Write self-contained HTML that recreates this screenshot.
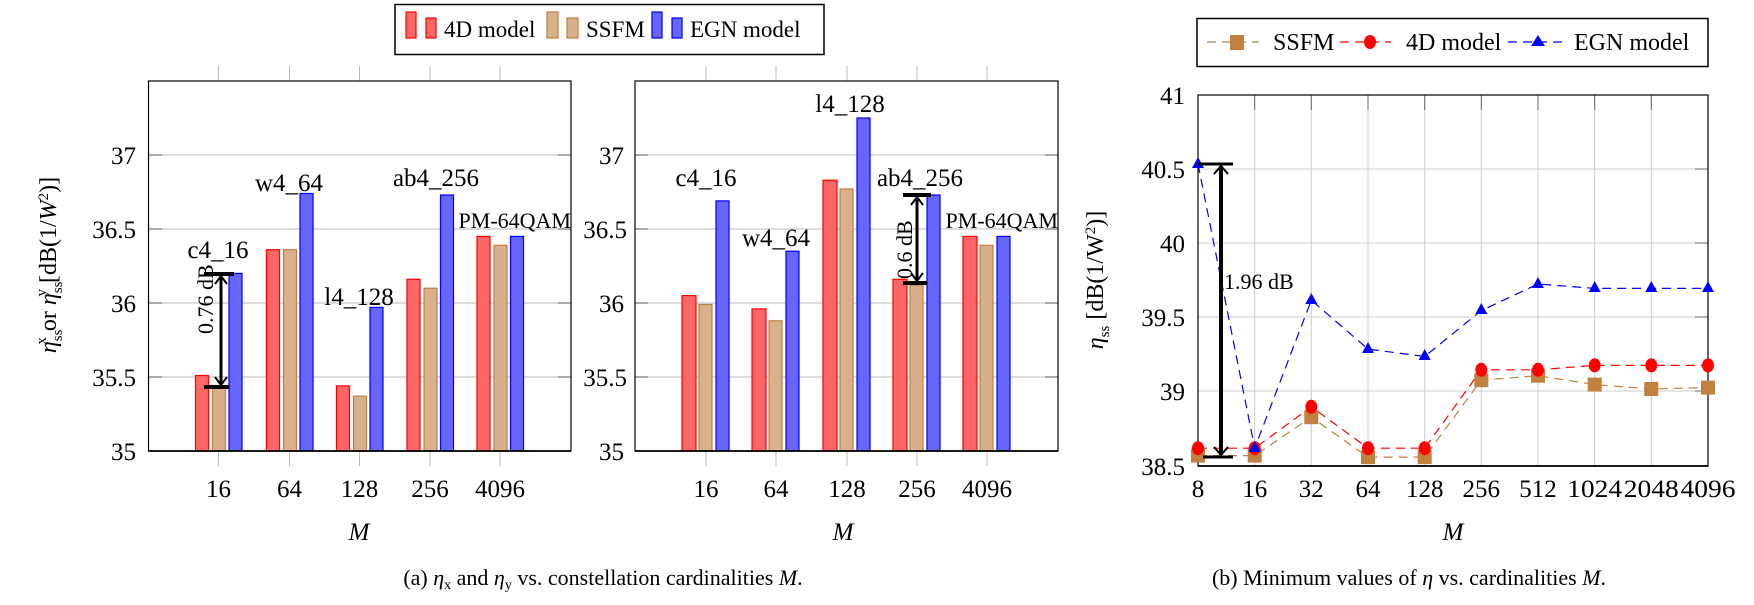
<!DOCTYPE html>
<html><head><meta charset="utf-8"><style>
html,body{margin:0;padding:0;background:#fff;}
svg{display:block;font-family:"Liberation Serif",serif;}
</style></head><body>
<svg width="1754" height="605" viewBox="0 0 1754 605" xmlns="http://www.w3.org/2000/svg">
<!-- Legend 1 -->
<rect x="395" y="4.5" width="429" height="50" fill="#fff" stroke="#000" stroke-width="1.5"/>
<g stroke-width="1.2">
<rect x="406" y="12" width="10" height="26" fill="#ff6666" stroke="red"/>
<rect x="426" y="18" width="10" height="20" fill="#ff6666" stroke="red"/>
<rect x="547" y="12" width="11" height="26" fill="#d8b08c" stroke="#c08040"/>
<rect x="567" y="18" width="11" height="20" fill="#d8b08c" stroke="#c08040"/>
<rect x="652" y="12" width="10" height="26" fill="#6666ff" stroke="blue"/>
<rect x="672" y="18" width="10" height="20" fill="#6666ff" stroke="blue"/>
</g>
<g font-size="23" fill="#000">
<text x="444" y="37">4D model</text>
<text x="586" y="37">SSFM</text>
<text x="690" y="37">EGN model</text>
</g>

<!-- Left bar plot -->
<g stroke="#bbb" stroke-width="1">
<line x1="148.5" y1="155" x2="571" y2="155"/><line x1="148.5" y1="229" x2="571" y2="229"/>
<line x1="148.5" y1="303" x2="571" y2="303"/><line x1="148.5" y1="377" x2="571" y2="377"/>
<line x1="218.5" y1="66" x2="218.5" y2="81"/><line x1="289.5" y1="66" x2="289.5" y2="81"/><line x1="359.5" y1="66" x2="359.5" y2="81"/><line x1="430" y1="66" x2="430" y2="81"/><line x1="500" y1="66" x2="500" y2="81"/>
<line x1="218.5" y1="451" x2="218.5" y2="466"/><line x1="289.5" y1="451" x2="289.5" y2="466"/><line x1="359.5" y1="451" x2="359.5" y2="466"/><line x1="430" y1="451" x2="430" y2="466"/><line x1="500" y1="451" x2="500" y2="466"/>
</g>
<g stroke="#555" stroke-width="1">
<line x1="148.5" y1="155" x2="162" y2="155"/><line x1="148.5" y1="229" x2="162" y2="229"/><line x1="148.5" y1="303" x2="162" y2="303"/><line x1="148.5" y1="377" x2="162" y2="377"/>
<line x1="558" y1="155" x2="571" y2="155"/><line x1="558" y1="229" x2="571" y2="229"/><line x1="558" y1="303" x2="571" y2="303"/><line x1="558" y1="377" x2="571" y2="377"/>
</g>
<g stroke-width="1.2">
<g fill="#ff6666" stroke="red">
<rect x="195.5" y="375.5" width="13" height="75.5"/><rect x="266.5" y="249.7" width="13" height="201.3"/><rect x="336.5" y="385.9" width="13" height="65.1"/><rect x="407" y="279.3" width="13" height="171.7"/><rect x="477" y="236.4" width="13" height="214.6"/>
</g>
<g fill="#d8b08c" stroke="#c08040">
<rect x="212.5" y="387.4" width="13" height="63.6"/><rect x="283.5" y="249.7" width="13" height="201.3"/><rect x="353.5" y="396.2" width="13" height="54.8"/><rect x="424" y="288.2" width="13" height="162.8"/><rect x="494" y="245.3" width="13" height="205.7"/>
</g>
<g fill="#6666ff" stroke="blue">
<rect x="229" y="273.4" width="13" height="177.6"/><rect x="300" y="193.5" width="13" height="257.5"/><rect x="370" y="307.4" width="13" height="143.6"/><rect x="440.5" y="195" width="13" height="256"/><rect x="510.5" y="236.4" width="13" height="214.6"/>
</g>
</g>
<rect x="148.5" y="81" width="422.5" height="370" fill="none" stroke="#000" stroke-width="1.2"/>
<line x1="148.5" y1="451" x2="571" y2="451" stroke="#000" stroke-width="1.8"/>
<g font-size="25" text-anchor="end">
<text x="136" y="164">37</text><text x="136" y="238">36.5</text><text x="136" y="312">36</text><text x="136" y="386">35.5</text><text x="136" y="460">35</text>
</g>
<g font-size="25" text-anchor="middle">
<text x="218.5" y="497">16</text><text x="289.5" y="497">64</text><text x="359.5" y="497">128</text><text x="430" y="497">256</text><text x="500" y="497">4096</text>
<text x="359" y="540" font-style="italic">M</text>
<text x="218" y="258">c4_16</text><text x="289" y="191">w4_64</text><text x="359" y="305">l4_128</text><text x="436" y="186">ab4_256</text>
</g>
<text x="571" y="228" font-size="22" text-anchor="end">PM-64QAM</text>
<!-- arrow 0.76 -->
<g stroke="#000" stroke-width="3">
<line x1="204" y1="274" x2="234" y2="274" stroke-width="4"/><line x1="204" y1="387" x2="229" y2="387" stroke-width="4"/>
<line x1="221" y1="276" x2="221" y2="385"/>
<polyline points="215,284 221,276 227,284" fill="none" stroke-width="2"/>
<polyline points="215,377 221,385 227,377" fill="none" stroke-width="2"/>
</g>
<text transform="translate(213,334) rotate(-90)" font-size="22">0.76 dB</text>
<text transform="translate(56,265) rotate(-90)" font-size="24" text-anchor="middle"><tspan font-style="italic">η</tspan><tspan font-size="15" dy="6">ss</tspan><tspan font-size="15" dy="-16" dx="-15">x</tspan><tspan dy="10"> or </tspan><tspan font-style="italic">η</tspan><tspan font-size="15" dy="6">ss</tspan><tspan font-size="15" dy="-16" dx="-15">y</tspan><tspan dy="10">  [dB(1/</tspan><tspan font-style="italic">W</tspan><tspan font-size="15" dy="-8">2</tspan><tspan dy="8">)]</tspan></text>

<!-- Right bar plot -->
<g stroke="#bbb" stroke-width="1">
<line x1="635" y1="155" x2="1058" y2="155"/><line x1="635" y1="229" x2="1058" y2="229"/>
<line x1="635" y1="303" x2="1058" y2="303"/><line x1="635" y1="377" x2="1058" y2="377"/>
<line x1="706" y1="66" x2="706" y2="81"/><line x1="776" y1="66" x2="776" y2="81"/><line x1="847" y1="66" x2="847" y2="81"/><line x1="917" y1="66" x2="917" y2="81"/><line x1="987" y1="66" x2="987" y2="81"/>
<line x1="706" y1="451" x2="706" y2="466"/><line x1="776" y1="451" x2="776" y2="466"/><line x1="847" y1="451" x2="847" y2="466"/><line x1="917" y1="451" x2="917" y2="466"/><line x1="987" y1="451" x2="987" y2="466"/>
</g>
<g stroke="#555" stroke-width="1">
<line x1="635" y1="155" x2="648" y2="155"/><line x1="635" y1="229" x2="648" y2="229"/><line x1="635" y1="303" x2="648" y2="303"/><line x1="635" y1="377" x2="648" y2="377"/>
<line x1="1045" y1="155" x2="1058" y2="155"/><line x1="1045" y1="229" x2="1058" y2="229"/><line x1="1045" y1="303" x2="1058" y2="303"/><line x1="1045" y1="377" x2="1058" y2="377"/>
</g>
<g stroke-width="1.2">
<g fill="#ff6666" stroke="red">
<rect x="682" y="295.6" width="14" height="155.4"/><rect x="752" y="308.9" width="14" height="142.1"/><rect x="823" y="180.2" width="14" height="270.8"/><rect x="893" y="279.3" width="14" height="171.7"/><rect x="963" y="236.4" width="14" height="214.6"/>
</g>
<g fill="#d8b08c" stroke="#c08040">
<rect x="699" y="304.5" width="13" height="146.5"/><rect x="769" y="320.8" width="13" height="130.2"/><rect x="840" y="189" width="13" height="262"/><rect x="910" y="285.2" width="13" height="165.8"/><rect x="980" y="245.3" width="13" height="205.7"/>
</g>
<g fill="#6666ff" stroke="blue">
<rect x="716" y="200.9" width="13" height="250.1"/><rect x="786" y="251.2" width="13" height="199.8"/><rect x="857" y="118" width="13" height="333"/><rect x="927" y="195" width="13" height="256"/><rect x="997" y="236.4" width="13" height="214.6"/>
</g>
</g>
<rect x="635" y="81" width="423" height="370" fill="none" stroke="#000" stroke-width="1.2"/>
<line x1="635" y1="451" x2="1058" y2="451" stroke="#000" stroke-width="1.8"/>
<g font-size="25" text-anchor="end">
<text x="624" y="164">37</text><text x="627" y="238">36.5</text><text x="624" y="312">36</text><text x="627" y="386">35.5</text><text x="624" y="460">35</text>
</g>
<g font-size="25" text-anchor="middle">
<text x="706" y="497">16</text><text x="776" y="497">64</text><text x="847" y="497">128</text><text x="917" y="497">256</text><text x="987" y="497">4096</text>
<text x="843" y="540" font-style="italic">M</text>
<text x="706" y="186">c4_16</text><text x="776" y="246">w4_64</text><text x="850" y="112">l4_128</text><text x="920" y="186">ab4_256</text>
</g>
<text x="1058" y="228" font-size="22" text-anchor="end">PM-64QAM</text>
<g stroke="#000" stroke-width="3">
<line x1="903" y1="195" x2="931" y2="195" stroke-width="4"/><line x1="903" y1="283" x2="927" y2="283" stroke-width="4"/>
<line x1="917" y1="197" x2="917" y2="281"/>
<polyline points="911,205 917,197 923,205" fill="none" stroke-width="2"/>
<polyline points="911,273 917,281 923,273" fill="none" stroke-width="2"/>
</g>
<text transform="translate(912,279) rotate(-90)" font-size="22">0.6 dB</text>

<!-- Caption a -->
<text x="603" y="585" font-size="22" text-anchor="middle">(a) <tspan font-style="italic">η</tspan><tspan font-size="14" dy="4">x</tspan><tspan dy="-4"> and </tspan><tspan font-style="italic">η</tspan><tspan font-size="14" dy="4">y</tspan><tspan dy="-4"> vs. constellation cardinalities </tspan><tspan font-style="italic">M</tspan>.</text>

<!-- Legend 3 -->
<rect x="1197" y="18.5" width="511" height="48" fill="#fff" stroke="#000" stroke-width="1.5"/>
<line x1="1207" y1="42" x2="1259" y2="42" stroke="#c08040" stroke-width="1.2" stroke-dasharray="9,6"/>
<rect x="1230" y="35" width="14" height="15" fill="#c08040"/>
<line x1="1340" y1="42" x2="1391" y2="42" stroke="red" stroke-width="1.2" stroke-dasharray="9,6"/>
<ellipse cx="1370" cy="42" rx="6" ry="7" fill="red"/>
<line x1="1508" y1="42" x2="1562" y2="42" stroke="blue" stroke-width="1.2" stroke-dasharray="9,6"/>
<polygon points="1538,35 1545,46 1531,46" fill="blue"/>
<g font-size="24"><text x="1273" y="50">SSFM</text><text x="1406" y="50">4D model</text><text x="1574" y="50">EGN model</text></g>

<!-- Chart 3 -->
<g stroke="#ccc" stroke-width="1">
<line x1="1254.7" y1="95" x2="1254.7" y2="466"/><line x1="1311.3" y1="95" x2="1311.3" y2="466"/><line x1="1368" y1="95" x2="1368" y2="466"/><line x1="1424.7" y1="95" x2="1424.7" y2="466"/><line x1="1481.3" y1="95" x2="1481.3" y2="466"/><line x1="1538" y1="95" x2="1538" y2="466"/><line x1="1594.7" y1="95" x2="1594.7" y2="466"/><line x1="1651.3" y1="95" x2="1651.3" y2="466"/>
<line x1="1198" y1="169" x2="1708" y2="169"/><line x1="1198" y1="243" x2="1708" y2="243"/><line x1="1198" y1="317" x2="1708" y2="317"/><line x1="1198" y1="391" x2="1708" y2="391"/>
</g>
<g stroke="#666" stroke-width="1">
<line x1="1254.7" y1="95" x2="1254.7" y2="110"/><line x1="1311.3" y1="95" x2="1311.3" y2="110"/><line x1="1368" y1="95" x2="1368" y2="110"/><line x1="1424.7" y1="95" x2="1424.7" y2="110"/><line x1="1481.3" y1="95" x2="1481.3" y2="110"/><line x1="1538" y1="95" x2="1538" y2="110"/><line x1="1594.7" y1="95" x2="1594.7" y2="110"/><line x1="1651.3" y1="95" x2="1651.3" y2="110"/>
<line x1="1695" y1="169" x2="1708" y2="169"/><line x1="1695" y1="243" x2="1708" y2="243"/><line x1="1695" y1="317" x2="1708" y2="317"/><line x1="1695" y1="391" x2="1708" y2="391"/>
</g>
<rect x="1198" y="95" width="510" height="371" fill="none" stroke="#000" stroke-width="1.2"/>
<line x1="1198" y1="466" x2="1708" y2="466" stroke="#000" stroke-width="1.8"/>
<polyline points="1198,455.6 1254.7,455.6 1311.3,417.2 1368,457.1 1424.7,457.1 1481.3,380.2 1538,375.7 1594.7,384.6 1651.3,389 1708,387.6" fill="none" stroke="#c08040" stroke-width="1.2" stroke-dasharray="9,6"/>
<polyline points="1198,448.2 1254.7,448.2 1311.3,406.8 1368,448.2 1424.7,448.2 1481.3,369.8 1538,369.8 1594.7,365.4 1651.3,365.4 1708,365.4" fill="none" stroke="red" stroke-width="1.2" stroke-dasharray="9,6"/>
<polyline points="1198,164.1 1254.7,448.2 1311.3,300.2 1368,349.1 1424.7,356.5 1481.3,310.6 1538,284 1594.7,288.4 1651.3,288.4 1708,288.4" fill="none" stroke="blue" stroke-width="1.2" stroke-dasharray="9,6"/>
<g fill="#c08040">
<rect x="1191" y="448.6" width="14" height="14"/><rect x="1247.7" y="448.6" width="14" height="14"/><rect x="1304.3" y="410.2" width="14" height="14"/><rect x="1361" y="450.1" width="14" height="14"/><rect x="1417.7" y="450.1" width="14" height="14"/><rect x="1474.3" y="373.2" width="14" height="14"/><rect x="1531" y="368.7" width="14" height="14"/><rect x="1587.7" y="377.6" width="14" height="14"/><rect x="1644.3" y="382" width="14" height="14"/><rect x="1701" y="380.6" width="14" height="14"/>
</g>
<g fill="red">
<ellipse cx="1198" cy="448.2" rx="6" ry="7"/><ellipse cx="1254.7" cy="448.2" rx="6" ry="7"/><ellipse cx="1311.3" cy="406.8" rx="6" ry="7"/><ellipse cx="1368" cy="448.2" rx="6" ry="7"/><ellipse cx="1424.7" cy="448.2" rx="6" ry="7"/><ellipse cx="1481.3" cy="369.8" rx="6" ry="7"/><ellipse cx="1538" cy="369.8" rx="6" ry="7"/><ellipse cx="1594.7" cy="365.4" rx="6" ry="7"/><ellipse cx="1651.3" cy="365.4" rx="6" ry="7"/><ellipse cx="1708" cy="365.4" rx="6" ry="7"/>
</g>
<g fill="blue">
<polygon points="1198,157 1204,168 1192,168"/><polygon points="1254.7,441 1260.7,452 1248.7,452"/><polygon points="1311.3,293 1317.3,304 1305.3,304"/><polygon points="1368,342 1374,353 1362,353"/><polygon points="1424.7,349 1430.7,360 1418.7,360"/><polygon points="1481.3,303 1487.3,314 1475.3,314"/><polygon points="1538,277 1544,288 1532,288"/><polygon points="1594.7,281 1600.7,292 1588.7,292"/><polygon points="1651.3,281 1657.3,292 1645.3,292"/><polygon points="1708,281 1714,292 1702,292"/>
</g>
<!-- 1.96 arrow -->
<g stroke="#000">
<line x1="1198" y1="164" x2="1233" y2="164" stroke-width="3"/>
<line x1="1203" y1="457" x2="1233" y2="457" stroke-width="3"/>
<line x1="1221" y1="166" x2="1221" y2="455" stroke-width="4"/>
<polyline points="1214,174 1221,166 1228,174" fill="none" stroke-width="2"/>
<polyline points="1214,447 1221,455 1228,447" fill="none" stroke-width="2"/>
</g>
<text x="1224" y="289" font-size="22" fill="#000">1.96 dB</text>
<g font-size="25" text-anchor="end">
<text x="1185" y="104">41</text><text x="1185" y="178">40.5</text><text x="1185" y="252">40</text><text x="1185" y="326">39.5</text><text x="1185" y="400">39</text><text x="1185" y="475">38.5</text>
</g>
<g font-size="25" text-anchor="middle">
<text x="1198" y="497">8</text><text x="1254.7" y="497">16</text><text x="1311.3" y="497">32</text><text x="1368" y="497">64</text><text x="1424.7" y="497">128</text><text x="1481.3" y="497">256</text><text x="1538" y="497">512</text><text x="1594.7" y="497" textLength="55" lengthAdjust="spacingAndGlyphs">1024</text><text x="1651.3" y="497" textLength="55" lengthAdjust="spacingAndGlyphs">2048</text><text x="1708" y="497" textLength="55" lengthAdjust="spacingAndGlyphs">4096</text>
<text x="1453" y="540" font-style="italic">M</text>
</g>
<text transform="translate(1103,280) rotate(-90)" font-size="24" text-anchor="middle"><tspan font-style="italic">η</tspan><tspan font-size="15" dy="6">ss</tspan><tspan dy="-6">  [dB(1/W</tspan><tspan font-size="15" dy="-8">2</tspan><tspan dy="8">)]</tspan></text>
<text x="1409" y="585" font-size="22" text-anchor="middle">(b) Minimum values of <tspan font-style="italic">η</tspan> vs. cardinalities <tspan font-style="italic">M</tspan>.</text>
</svg>
</body></html>
